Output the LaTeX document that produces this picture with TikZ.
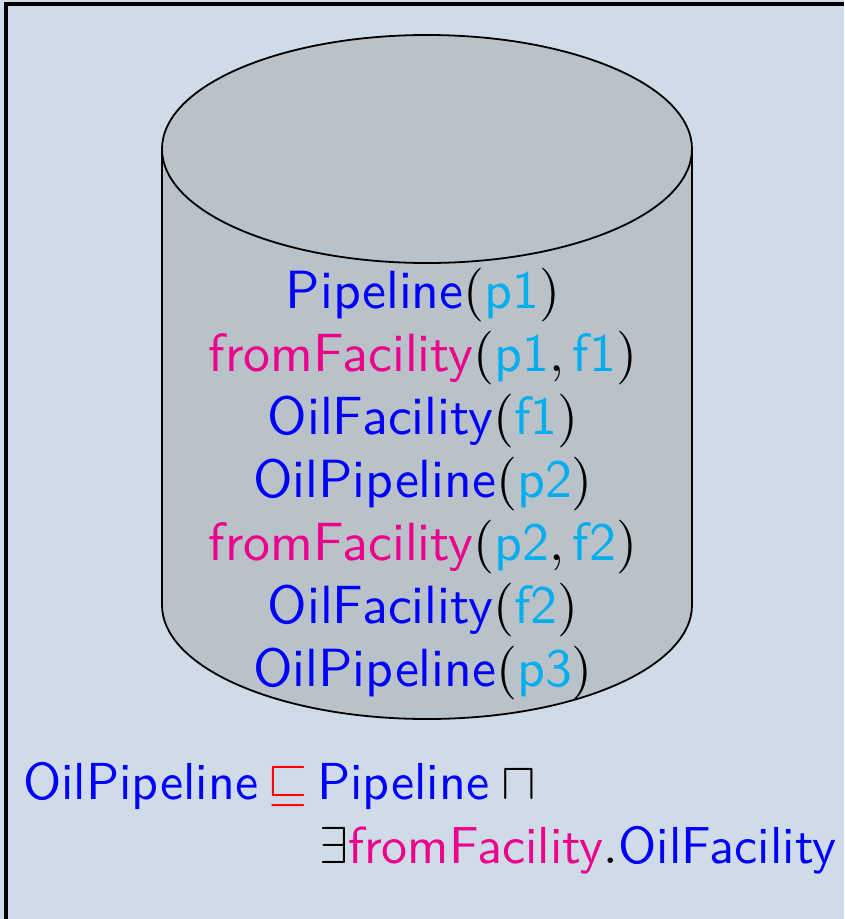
\documentclass[tikz,border=0pt]{standalone}
\usepackage{amssymb}
\usepackage{graphicx}
\definecolor{bgc}{RGB}{207,220,232}
\definecolor{cyl}{RGB}{185,193,201}
\definecolor{rolec}{RGB}{236,0,140}
\definecolor{indc}{RGB}{0,174,239}
\definecolor{conc}{RGB}{0,0,255}
\newcommand{\cn}[1]{\textcolor{conc}{\textsf{#1}}}
\newcommand{\rl}[1]{\textcolor{rolec}{\textsf{#1}}}
\newcommand{\inv}[1]{\textcolor{indc}{\textsf{#1}}}
\newcommand{\facttext}[1]{\scalebox{5.38}{#1}}
\newcommand{\axtext}[1]{\scalebox{5.2}{#1}}
\tikzset{
 factline/.style={anchor=base,inner sep=0pt},
 axline/.style={anchor=base west,inner sep=0pt}}
\begin{document}
\begin{tikzpicture}[x=1pt,y=-1pt]
\useasboundingbox (0,0) rectangle (844,919);
\fill[bgc] (0,0) rectangle (844,919);
\draw[line width=3.6pt] (6,919) -- (6,3.8) -- (844,3.8);
\path[fill=cyl,draw=black,line width=1.8pt] (162,149) -- (162,605) arc[start angle=180,end angle=360,x radius=265,y radius=-114] -- (692,149) arc[start angle=0,end angle=180,x radius=265,y radius=-114] -- cycle;
\draw[line width=1.8pt] (162,149) arc[start angle=180,end angle=360,x radius=265,y radius=-114];
\node[factline] (f1) at (423,308.5) {\facttext{\cn{Pipeline}$($\inv{p1}$)$}};
\node[factline] (f2) at (423,371.5) {\facttext{\rl{fromFacility}$($\inv{p1}$,\,$\inv{f1}$)$}};
\node[factline] (f3) at (423,434.5) {\facttext{\cn{OilFacility}$($\inv{f1}$)$}};
\node[factline] (f4) at (423,497.5) {\facttext{\cn{OilPipeline}$($\inv{p2}$)$}};
\node[factline] (f5) at (423,560.5) {\facttext{\rl{fromFacility}$($\inv{p2}$,\,$\inv{f2}$)$}};
\node[factline] (f6) at (423,623.5) {\facttext{\cn{OilFacility}$($\inv{f2}$)$}};
\node[factline] (f7) at (423,686.5) {\facttext{\cn{OilPipeline}$($\inv{p3}$)$}};
\node[axline] (a1) at (23,799) {\axtext{\cn{OilPipeline}}};
\node[axline] (a2) at (267,799) {\axtext{\textcolor{red}{$\sqsubseteq$}}};
\node[axline] (a3) at (317,799) {\axtext{\cn{Pipeline}\,\kern0.08em$\sqcap$}};
\node[axline] (a4) at (319,863) {\axtext{$\exists$\rl{fromFacility}$.$\cn{OilFacility}}};
\end{tikzpicture}
\end{document}
